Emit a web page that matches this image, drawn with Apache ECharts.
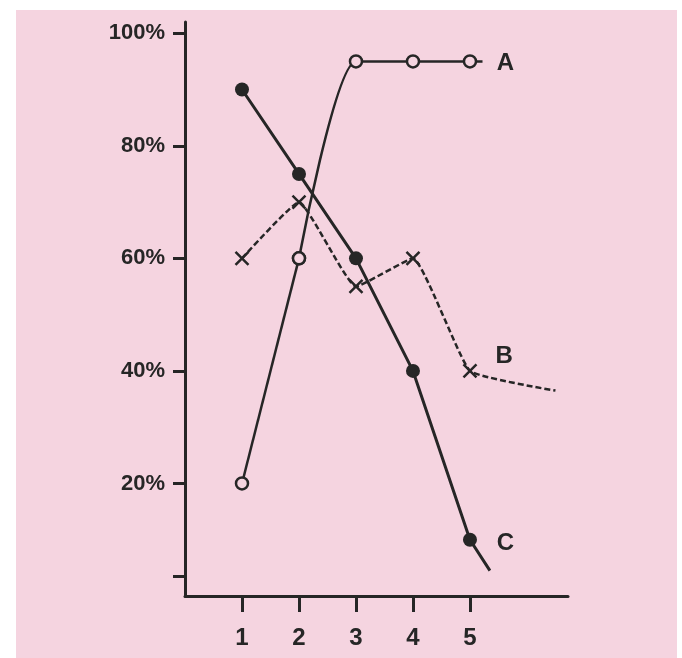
<!DOCTYPE html>
<html>
<head>
<meta charset="utf-8">
<script src="https://cdn.jsdelivr.net/npm/echarts@6/dist/echarts.min.js"></script>
<style>
  html, body { margin: 0; padding: 0; background: #ffffff; }
  #chart { width: 682px; height: 658px; }
</style>
</head>
<body>
<div id="chart"></div>
<script>
// x positions and series values (percent)
var aXVals = [1, 2, 3, 4, 5];
var aSeriesA = [20, 60, 95, 95, 95];
var aSeriesB = [60, 70, 55, 60, 40];
var aSeriesC = [90, 75, 60, 40, 10];
// lines run on a little after point 5
var aTailA = [5.22, 95];
var aTailB = [6.5, 36.5];
var aTailC = [5.35, 4.5];
// curve labels
var aLabelNames = ['A', 'B', 'C'];
var aLabelPos = [[5.62, 94.6], [5.6, 42.5], [5.62, 9.3]];
var aYTicks = [3.5, 20, 40, 60, 80, 100];
var aYLabels = [20, 40, 60, 80, 100];

var sInk = '#262626';
var sPaper = '#f5d4e0';

// 把数值拼成 [x, y]，从第 iFrom 个点开始，可带尾巴
function BuildData(aVals, iFrom, iTo, aTail) {
    var aData = [];
    for (var i = iFrom; i < iTo; i++) {
        aData.push([aXVals[i], aVals[i]]);
    }
    if (aTail) {
        aData.push({value: aTail, symbol: 'none'});
    }
    return aData
}

function BuildLabels() {
    var aData = [];
    for (var i = 0; i < aLabelNames.length; i++) {
        aData.push({name: aLabelNames[i], value: aLabelPos[i]});
    }
    return aData
}

var myChart = echarts.init(document.getElementById('chart'));
var jOption = {
    backgroundColor: '#ffffff',
    animation: false,
    graphic: [{
        type: 'rect',
        z: -10,
        shape: {x: 16, y: 10, width: 661, height: 660},
        style: {fill: sPaper}
    }],
    grid: {left: 185, right: 114, top: 22, bottom: 62},
    xAxis: {
        type: 'value',
        min: 0,
        max: 6.72,
        splitLine: {show: false},
        axisLine: {lineStyle: {color: sInk, width: 3}},
        axisTick: {
            customValues: aXVals,
            length: 16,
            lineStyle: {color: sInk, width: 3}
        },
        axisLabel: {
            customValues: aXVals,
            margin: 30,
            color: sInk,
            fontSize: 24,
            fontWeight: 'bold',
            fontFamily: 'Liberation Sans'
        }
    },
    yAxis: {
        type: 'value',
        min: 0,
        max: 102,
        splitLine: {show: false},
        axisLine: {show: true, lineStyle: {color: sInk, width: 3}},
        axisTick: {
            customValues: aYTicks,
            length: 12,
            lineStyle: {color: sInk, width: 3}
        },
        axisLabel: {
            customValues: aYLabels,
            margin: 20,
            color: sInk,
            fontSize: 22,
            fontWeight: 'bold',
            fontFamily: 'Liberation Sans',
            formatter: function (v) { return v + '%'; }
        }
    },
    series: [
        {
            // A 第一段：直线
            type: 'line',
            data: BuildData(aSeriesA, 0, 2),
            symbol: 'circle',
            symbolSize: 12,
            itemStyle: {color: sPaper, borderColor: sInk, borderWidth: 2.5},
            lineStyle: {color: sInk, width: 2.5},
            z: 3
        },
        {
            // A 后段：弯上去再走平
            type: 'line',
            data: BuildData(aSeriesA, 1, 5, aTailA),
            smooth: 0.35,
            smoothMonotone: 'x',
            symbol: 'circle',
            symbolSize: 12,
            itemStyle: {color: sPaper, borderColor: sInk, borderWidth: 2.5},
            lineStyle: {color: sInk, width: 2.5},
            z: 3
        },
        {
            // B: 叉号，虚线
            type: 'line',
            data: BuildData(aSeriesB, 0, 5, aTailB),
            smooth: 0.12,
            symbol: 'path://M0,0L10,10M10,0L0,10',
            symbolSize: 13,
            itemStyle: {color: 'none', borderColor: sInk, borderWidth: 2.5},
            lineStyle: {color: sInk, width: 2.5, type: [6, 3]}
        },
        {
            // C: 实心圆，实线
            type: 'line',
            data: BuildData(aSeriesC, 0, 5, aTailC),
            symbol: 'circle',
            symbolSize: 14,
            itemStyle: {color: sInk},
            lineStyle: {color: sInk, width: 3}
        },
        {
            type: 'scatter',
            data: BuildLabels(),
            symbolSize: 1,
            silent: true,
            itemStyle: {opacity: 1, color: 'rgba(0,0,0,0)'},
            label: {
                show: true,
                position: 'inside',
                formatter: '{b}',
                color: sInk,
                fontSize: 24,
                fontWeight: 'bold',
                fontFamily: 'Liberation Sans'
            }
        }
    ]
};
myChart.setOption(jOption);
</script>
</body>
</html>
